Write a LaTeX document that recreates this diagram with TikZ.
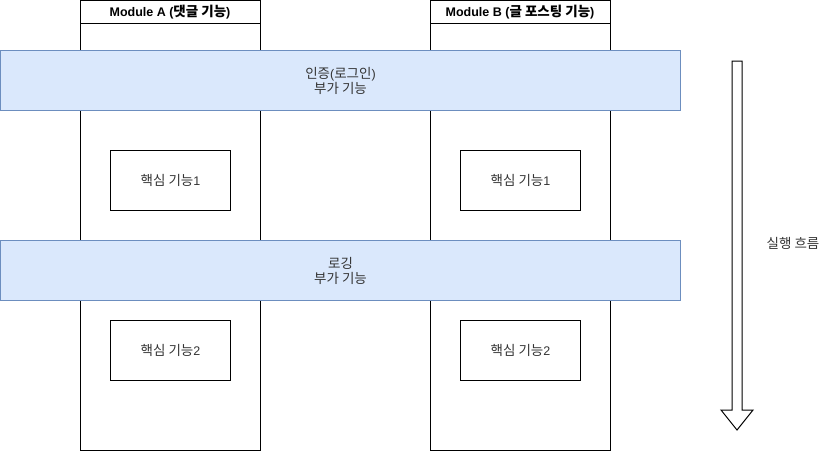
\documentclass[tikz,border=0pt]{standalone}
\usepackage{fontspec}
\setmainfont{Liberation Sans}
\newfontfamily\kr[Scale=1.08]{Noto Sans CJK KR}
\newfontfamily\lat{Liberation Sans}
\begin{document}
\begin{tikzpicture}[x=1pt,y=-1pt,
  module/.style={draw=black,line width=1pt,fill=white,minimum width=180pt,minimum height=450pt,anchor=north west,inner sep=0pt},
  band/.style={draw=bandline,fill=bandfill,line width=1pt,minimum width=680pt,minimum height=60pt,anchor=north west,inner sep=0pt,align=center,font=\fontsize{12.5}{15}\selectfont\kr,text=txt},
  core/.style={draw=black,fill=white,line width=1pt,minimum width=120pt,minimum height=60pt,anchor=north west,inner sep=0pt,font=\fontsize{12.5}{15}\selectfont\kr,text=txt},
  hdr/.style={font=\fontsize{12.5}{15}\selectfont\bfseries,text=black,inner sep=0pt},
  lbl/.style={font=\fontsize{12.5}{15}\selectfont\kr,text=txt,inner sep=0pt}]
\definecolor{bandfill}{HTML}{DAE8FC}
\definecolor{bandline}{HTML}{6C8EBF}
\definecolor{txt}{HTML}{333333}
\useasboundingbox (0,0) rectangle (831,451);
% modules
\node[module] (ma) at (80,0) {};
\node[module] (mb) at (430,0) {};
\draw[line width=1pt] (80,23) -- (260,23);
\draw[line width=1pt] (430,23) -- (610,23);
\node[hdr] (ha) at (170,12) {Module A ({\kr\bfseries 댓글 기능})};
\node[hdr] (hb) at (520,12) {Module B ({\kr\bfseries 글 포스팅 기능})};
% bands
\node[band] (auth) at (0,50) {인증{\lat(}로그인{\lat)}\\부가 기능};
\node[band] (log) at (0,240) {로깅\\부가 기능};
% core boxes
\node[core] (a1) at (110,150) {핵심 기능{\lat 1}};
\node[core] (b1) at (460,150) {핵심 기능{\lat 1}};
\node[core] (a2) at (110,320) {핵심 기능{\lat 2}};
\node[core] (b2) at (460,320) {핵심 기능{\lat 2}};
% flow arrow
\draw[line width=1pt,fill=white] (732,61) -- (742,61) -- (742,410) -- (753,410) -- (737,430) -- (721,410) -- (732,410) -- cycle;
\node[lbl] (flow) at (793,243) {실행 흐름};
\end{tikzpicture}
\end{document}
